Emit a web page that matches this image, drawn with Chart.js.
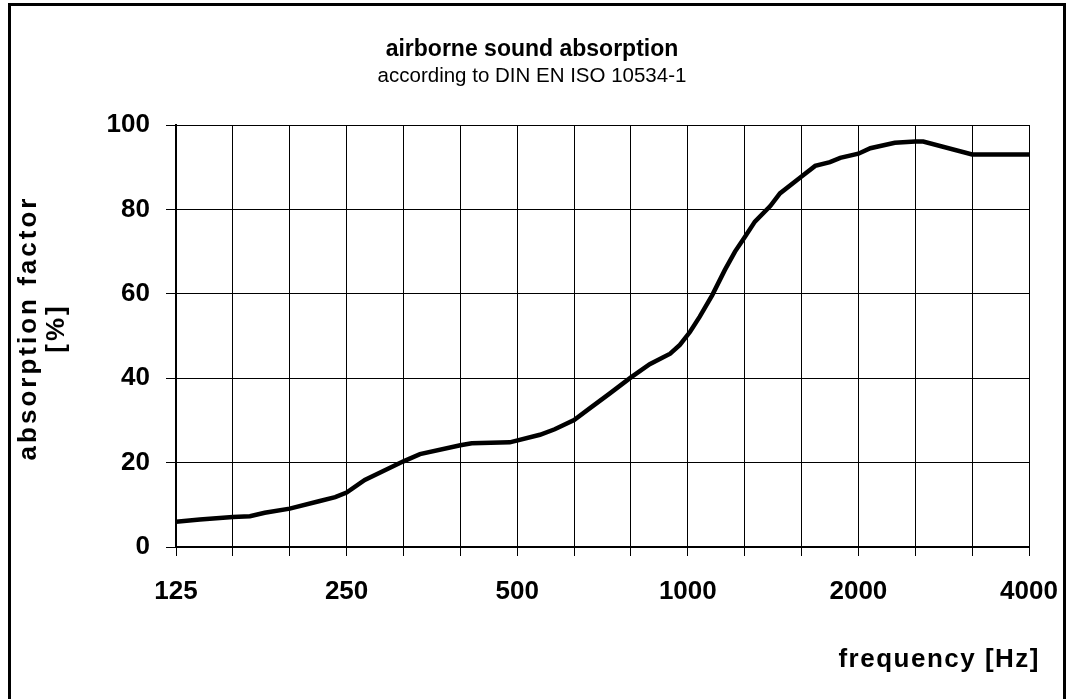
<!DOCTYPE html>
<html>
<head>
<meta charset="utf-8">
<script src="https://cdn.jsdelivr.net/npm/chart.js@4.4.1/dist/chart.umd.min.js"></script>
<style>
  html, body { margin: 0; padding: 0; background: #fff; }
  #wrap { width: 1069px; height: 699px; }
</style>
</head>
<body>
<div id="wrap"><canvas id="c" width="1069" height="699"></canvas></div>
<script>
// 1/3-octave band centre frequencies (grid positions) and labelled octaves
const bands = ['125','160','200','250','315','400','500','630','800','1000','1250','1600','2000','2500','3150','4000'];
const octaveLabels = ['125','250','500','1000','2000','4000'];
// measured curve: position in 1/3-octave band steps from 125 Hz, absorption factor [%]
const bandPos = [0, 0.42, 1.0, 1.3, 1.56, 2.0, 2.53, 2.8, 3.0, 3.32, 4.0, 4.29, 5.0, 5.2, 5.87, 6.4, 6.66, 7.0, 7.28, 7.63, 8.0, 8.33, 8.69, 8.86, 9.04, 9.21, 9.43, 9.65, 9.83, 10.0, 10.18, 10.45, 10.62, 11.0, 11.24, 11.5, 11.68, 12.0, 12.21, 12.64, 13.0, 13.14, 14.0, 15.0];
const absorption = [6.0, 6.5, 7.1, 7.3, 8.1, 9.1, 10.9, 11.8, 12.9, 15.9, 20.3, 22.0, 24.1, 24.6, 24.8, 26.6, 27.9, 30.1, 32.9, 36.4, 40.2, 43.3, 45.8, 47.9, 51.0, 54.6, 59.7, 65.6, 70.0, 73.4, 77.1, 80.8, 83.8, 87.8, 90.3, 91.2, 92.2, 93.2, 94.5, 95.8, 96.1, 96.1, 93.0, 93.0];
const yTicks = [0, 20, 40, 60, 80, 100];
const titleText = 'airborne sound absorption';
const subtitleText = 'according to DIN EN ISO 10534-1';
const yTitle = ['absorption factor', '[%]'];
const xTitle = 'frequency [Hz]';

const FONT = '"Liberation Sans", Arial, sans-serif';

const decor = {
  id: 'decor',
  beforeDraw(chart) {
    const ctx = chart.ctx;
    ctx.save();
    ctx.fillStyle = '#fff';
    ctx.fillRect(0, 0, chart.width, chart.height);
    ctx.restore();
  },
  afterDraw(chart) {
    const ctx = chart.ctx;
    ctx.save();
    ctx.fillStyle = '#000';
    ctx.textAlign = 'center';
    ctx.textBaseline = 'middle';
    ctx.font = 'bold 23px ' + FONT;
    ctx.fillText(titleText, 532, 50);
    ctx.font = '20.5px ' + FONT;
    ctx.fillText(subtitleText, 532, 76);

    // x axis title
    ctx.font = 'bold 26px ' + FONT;
    if ('letterSpacing' in ctx) ctx.letterSpacing = '1.5px';
    ctx.textAlign = 'right';
    ctx.fillText(xTitle, 1040, 660);

    // y axis title
    if ('letterSpacing' in ctx) ctx.letterSpacing = '3px';
    ctx.save();
    ctx.translate(29, 328);
    ctx.rotate(-Math.PI / 2);
    ctx.textAlign = 'center';
    ctx.fillText(yTitle[0], 0, 0);
    ctx.fillText(yTitle[1], 0, 28);
    ctx.restore();
    if ('letterSpacing' in ctx) ctx.letterSpacing = '0px';

    // outer frame
    ctx.strokeStyle = '#000';
    ctx.lineWidth = 3;
    ctx.strokeRect(9.5, 4.5, 1055, 720);
    ctx.restore();
  }
};

new Chart(document.getElementById('c'), {
  type: 'line',
  data: {
    datasets: [{
      data: bandPos.map((x, i) => ({ x: x, y: absorption[i] })),
      borderColor: '#000',
      borderWidth: 4.5,
      pointRadius: 0,
      tension: 0,
      fill: false
    }]
  },
  options: {
    responsive: false,
    animation: false,
    devicePixelRatio: 1,
    layout: { padding: { top: 125, right: 40, left: 0, bottom: 0 } },
    plugins: { legend: { display: false }, title: { display: false }, tooltip: { enabled: false } },
    scales: {
      x: {
        type: 'linear',
        min: 0,
        max: bands.length - 1,
        afterBuildTicks(scale) { scale.ticks = bands.map((b, i) => ({ value: i })); },
        afterFit(scale) { scale.height = 152; scale.paddingLeft = 0; scale.paddingRight = 0; },
        ticks: {
          autoSkip: false,
          maxRotation: 0,
          padding: 20,
          color: '#000',
          font: { family: FONT, size: 26, weight: 'bold' },
          callback: (v) => octaveLabels.includes(bands[v]) ? bands[v] : ''
        },
        grid: { color: '#000', lineWidth: 1, tickLength: 9, tickColor: '#000', drawTicks: true },
        border: { display: true, color: '#000', width: 2 }
      },
      y: {
        min: 0,
        max: 100,
        afterBuildTicks(scale) { scale.ticks = yTicks.map(v => ({ value: v })); },
        afterFit(scale) { scale.width = 176; scale.paddingTop = 0; scale.paddingBottom = 0; },
        ticks: {
          padding: 16,
          color: '#000',
          font: { family: FONT, size: 26, weight: 'bold' }
        },
        grid: { color: '#000', lineWidth: 1, tickLength: 10, tickColor: '#000', drawTicks: true },
        border: { display: true, color: '#000', width: 2 }
      }
    }
  },
  plugins: [decor]
});
</script>
</body>
</html>
